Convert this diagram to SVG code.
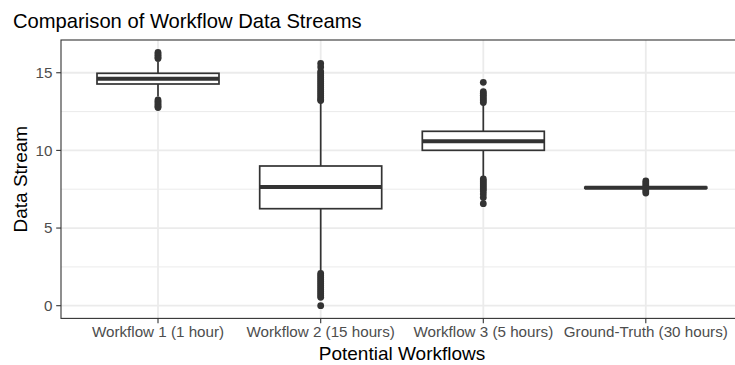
<svg xmlns="http://www.w3.org/2000/svg" width="735" height="365" viewBox="0 0 735 365">
  <style>
    .txt { font-family: "Liberation Sans", Arial, sans-serif; }
    .title { font-size: 20.2px; fill: #000; }
    .axis-title { font-size: 19px; fill: #000; }
    .tick-label { font-size: 15.2px; fill: #4d4d4d; }
    .grid-major { stroke: #ebebeb; stroke-width: 1.8; }
    .grid-minor { stroke: #ebebeb; stroke-width: 1; }
    .tick { stroke: #333333; stroke-width: 1.1; }
    .box { fill: #ffffff; stroke: #333333; stroke-width: 1.7; }
    .median { stroke: #333333; stroke-width: 4; }
    .whisker { stroke: #333333; stroke-width: 1.7; }
    .pt { fill: #333333; }
  </style>

  <rect x="0" y="0" width="735" height="365" fill="#ffffff"/>

  <!-- title -->
  <text class="txt title" x="13" y="28">Comparison of Workflow Data Streams</text>

  <!-- panel gridlines -->
  <g id="grid">
    <line class="grid-minor" x1="61" y1="266.9" x2="735" y2="266.9"/>
    <line class="grid-minor" x1="61" y1="189.2" x2="735" y2="189.2"/>
    <line class="grid-minor" x1="61" y1="111.6" x2="735" y2="111.6"/>
    <line class="grid-major" x1="61" y1="305.7" x2="735" y2="305.7"/>
    <line class="grid-major" x1="61" y1="228.05" x2="735" y2="228.05"/>
    <line class="grid-major" x1="61" y1="150.4" x2="735" y2="150.4"/>
    <line class="grid-major" x1="61" y1="72.75" x2="735" y2="72.75"/>
    <line class="grid-major" x1="158" y1="40" x2="158" y2="318.4"/>
    <line class="grid-major" x1="320.7" y1="40" x2="320.7" y2="318.4"/>
    <line class="grid-major" x1="483.3" y1="40" x2="483.3" y2="318.4"/>
    <line class="grid-major" x1="645.8" y1="40" x2="645.8" y2="318.4"/>
  </g>

  <!-- Workflow 1 (1 hour) -->
  <g id="box-workflow1">
    <line class="whisker" x1="158" y1="62" x2="158" y2="73.3"/>
    <line class="whisker" x1="158" y1="84" x2="158" y2="96.5"/>
    <circle class="pt" cx="158" cy="52.4" r="3.4"/>
    <circle class="pt" cx="158" cy="54" r="3.4"/>
    <circle class="pt" cx="158" cy="55.6" r="3.4"/>
    <circle class="pt" cx="158" cy="57.2" r="3.4"/>
    <circle class="pt" cx="158" cy="58.6" r="3.4"/>
    <circle class="pt" cx="158" cy="99.9" r="3.4"/>
    <circle class="pt" cx="158" cy="101.5" r="3.4"/>
    <circle class="pt" cx="158" cy="103.1" r="3.4"/>
    <circle class="pt" cx="158" cy="104.7" r="3.4"/>
    <circle class="pt" cx="158" cy="106.2" r="3.4"/>
    <circle class="pt" cx="158" cy="107.6" r="3.4"/>
    <rect class="box" x="97" y="73.3" width="122" height="10.7"/>
    <line class="median" x1="97" y1="78.7" x2="219" y2="78.7"/>
  </g>

  <!-- Workflow 2 (15 hours) -->
  <g id="box-workflow2">
    <line class="whisker" x1="320.7" y1="100" x2="320.7" y2="166"/>
    <line class="whisker" x1="320.7" y1="208.7" x2="320.7" y2="274"/>
    <circle class="pt" cx="320.7" cy="63.4" r="3.4"/>
    <circle class="pt" cx="320.7" cy="67" r="3.4"/>
    <circle class="pt" cx="320.7" cy="71.5" r="3.4"/>
    <circle class="pt" cx="320.7" cy="73.5" r="3.4"/>
    <circle class="pt" cx="320.7" cy="75.5" r="3.4"/>
    <circle class="pt" cx="320.7" cy="77.5" r="3.4"/>
    <circle class="pt" cx="320.7" cy="79.5" r="3.4"/>
    <circle class="pt" cx="320.7" cy="81.5" r="3.4"/>
    <circle class="pt" cx="320.7" cy="83.5" r="3.4"/>
    <circle class="pt" cx="320.7" cy="85.5" r="3.4"/>
    <circle class="pt" cx="320.7" cy="87.5" r="3.4"/>
    <circle class="pt" cx="320.7" cy="89.5" r="3.4"/>
    <circle class="pt" cx="320.7" cy="91.5" r="3.4"/>
    <circle class="pt" cx="320.7" cy="93.5" r="3.4"/>
    <circle class="pt" cx="320.7" cy="95.5" r="3.4"/>
    <circle class="pt" cx="320.7" cy="97.5" r="3.4"/>
    <circle class="pt" cx="320.7" cy="99.5" r="3.4"/>
    <circle class="pt" cx="320.7" cy="100.5" r="3.4"/>
    <circle class="pt" cx="320.7" cy="273.4" r="3.4"/>
    <circle class="pt" cx="320.7" cy="275.4" r="3.4"/>
    <circle class="pt" cx="320.7" cy="277.4" r="3.4"/>
    <circle class="pt" cx="320.7" cy="279.4" r="3.4"/>
    <circle class="pt" cx="320.7" cy="281.4" r="3.4"/>
    <circle class="pt" cx="320.7" cy="283.4" r="3.4"/>
    <circle class="pt" cx="320.7" cy="285.4" r="3.4"/>
    <circle class="pt" cx="320.7" cy="287.4" r="3.4"/>
    <circle class="pt" cx="320.7" cy="289.4" r="3.4"/>
    <circle class="pt" cx="320.7" cy="291.4" r="3.4"/>
    <circle class="pt" cx="320.7" cy="293.4" r="3.4"/>
    <circle class="pt" cx="320.7" cy="295.4" r="3.4"/>
    <circle class="pt" cx="320.7" cy="297.3" r="3.4"/>
    <circle class="pt" cx="320.7" cy="305.7" r="3.4"/>
    <rect class="box" x="259.7" y="166" width="122" height="42.7"/>
    <line class="median" x1="259.7" y1="187" x2="381.7" y2="187"/>
  </g>

  <!-- Workflow 3 (5 hours) -->
  <g id="box-workflow3">
    <line class="whisker" x1="483.3" y1="102" x2="483.3" y2="131.3"/>
    <line class="whisker" x1="483.3" y1="150.3" x2="483.3" y2="179"/>
    <circle class="pt" cx="483.3" cy="82.3" r="3.4"/>
    <circle class="pt" cx="483.3" cy="91.7" r="3.4"/>
    <circle class="pt" cx="483.3" cy="93.5" r="3.4"/>
    <circle class="pt" cx="483.3" cy="95.3" r="3.4"/>
    <circle class="pt" cx="483.3" cy="97.1" r="3.4"/>
    <circle class="pt" cx="483.3" cy="98.9" r="3.4"/>
    <circle class="pt" cx="483.3" cy="100.7" r="3.4"/>
    <circle class="pt" cx="483.3" cy="102.6" r="3.4"/>
    <circle class="pt" cx="483.3" cy="179" r="3.4"/>
    <circle class="pt" cx="483.3" cy="181" r="3.4"/>
    <circle class="pt" cx="483.3" cy="183" r="3.4"/>
    <circle class="pt" cx="483.3" cy="185" r="3.4"/>
    <circle class="pt" cx="483.3" cy="187" r="3.4"/>
    <circle class="pt" cx="483.3" cy="189" r="3.4"/>
    <circle class="pt" cx="483.3" cy="191" r="3.4"/>
    <circle class="pt" cx="483.3" cy="194" r="3.4"/>
    <circle class="pt" cx="483.3" cy="197.5" r="3.4"/>
    <circle class="pt" cx="483.3" cy="203.7" r="3.4"/>
    <rect class="box" x="422.3" y="131.3" width="122" height="19"/>
    <line class="median" x1="422.3" y1="141.3" x2="544.3" y2="141.3"/>
  </g>

  <!-- Ground-Truth (30 hours) -->
  <g id="box-groundtruth">
    <circle class="pt" cx="645.8" cy="181" r="3.4"/>
    <circle class="pt" cx="645.8" cy="183" r="3.4"/>
    <circle class="pt" cx="645.8" cy="185" r="3.4"/>
    <circle class="pt" cx="645.8" cy="187" r="3.4"/>
    <circle class="pt" cx="645.8" cy="189" r="3.4"/>
    <circle class="pt" cx="645.8" cy="191" r="3.4"/>
    <circle class="pt" cx="645.8" cy="193" r="3.4"/>
    <rect class="box" x="584.8" y="187.2" width="122" height="1"/>
    <line class="median" x1="584.8" y1="187.7" x2="706.8" y2="187.7"/>
  </g>

  <!-- panel border (continues past the right edge) -->
  <rect x="61" y="40" width="700" height="278.4" fill="none" stroke="#333333" stroke-width="1.1"/>

  <!-- y axis -->
  <g id="axis-y">
    <line class="tick" x1="56.2" y1="305.7" x2="61" y2="305.7"/>
    <line class="tick" x1="56.2" y1="228.05" x2="61" y2="228.05"/>
    <line class="tick" x1="56.2" y1="150.4" x2="61" y2="150.4"/>
    <line class="tick" x1="56.2" y1="72.75" x2="61" y2="72.75"/>
    <text class="txt tick-label" x="52.5" y="311" text-anchor="end">0</text>
    <text class="txt tick-label" x="52.5" y="233.4" text-anchor="end">5</text>
    <text class="txt tick-label" x="52.5" y="155.7" text-anchor="end">10</text>
    <text class="txt tick-label" x="52.5" y="78.1" text-anchor="end">15</text>
    <text class="txt axis-title" transform="translate(27 179.2) rotate(-90)" text-anchor="middle">Data Stream</text>
  </g>

  <!-- x axis -->
  <g id="axis-x">
    <line class="tick" x1="158" y1="318.4" x2="158" y2="323.2"/>
    <line class="tick" x1="320.7" y1="318.4" x2="320.7" y2="323.2"/>
    <line class="tick" x1="483.3" y1="318.4" x2="483.3" y2="323.2"/>
    <line class="tick" x1="645.8" y1="318.4" x2="645.8" y2="323.2"/>
    <text class="txt tick-label" x="158" y="337" text-anchor="middle">Workflow 1 (1 hour)</text>
    <text class="txt tick-label" x="320.7" y="337" text-anchor="middle">Workflow 2 (15 hours)</text>
    <text class="txt tick-label" x="483.3" y="337" text-anchor="middle">Workflow 3 (5 hours)</text>
    <text class="txt tick-label" x="645.8" y="337" text-anchor="middle">Ground-Truth (30 hours)</text>
    <text class="txt axis-title" x="402" y="360" text-anchor="middle">Potential Workflows</text>
  </g>
</svg>
